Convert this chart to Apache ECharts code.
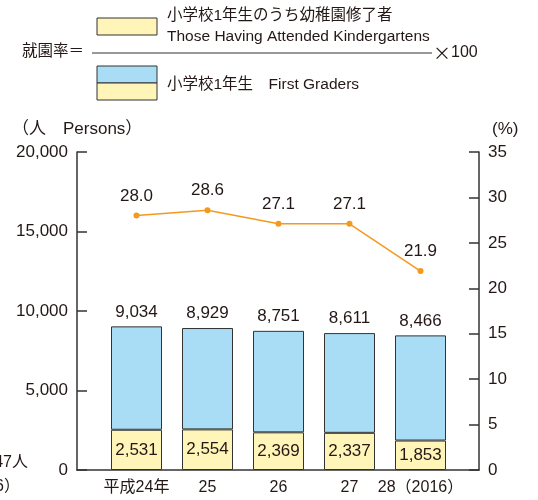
<!DOCTYPE html>
<html>
<head>
<meta charset="utf-8">
<script src="https://cdn.jsdelivr.net/npm/echarts@6/dist/echarts.min.js"></script>
<style>
  html, body { margin: 0; padding: 0; background: #fff; }
  #main { width: 538px; height: 500px; }
</style>
</head>
<body>
<div id="main"></div>
<script>
// 就園率 data
var years = ['平成24年', '25', '26', '27', '28（2016）'];
var firstGraders = [9034, 8929, 8751, 8611, 8466];
var kinder = [2531, 2554, 2369, 2337, 1853];
var rate = [28.0, 28.6, 27.1, 27.1, 21.9];
var leftTicks = [0, 20000, 5000];   // min, max, step
var rightTicks = [0, 35, 5];

var rest = firstGraders.map(function (v, i) { return v - kinder[i]; });

var font = '"Liberation Sans", Arial, "Noto Sans CJK JP", sans-serif';
var txt = '#231815';
var blue = '#a9dcf5';
var yellow = '#fff5b9';

var chart = echarts.init(document.getElementById('main'));

var option = {
  textStyle: { fontFamily: font, color: txt },
  animation: false,
  grid: [
    // visible axes
    { left: 77, right: 59, top: 152, bottom: 30 },
    // bars / line
    { left: 101, right: 82, top: 152, bottom: 30 }
  ],
  xAxis: [
    {
      gridIndex: 0, type: 'value', min: 0, max: 1,
      axisLine: { show: true, lineStyle: { color: '#333', width: 1.5 } },
      axisTick: { show: false }, axisLabel: { show: false }, splitLine: { show: false }
    },
    {
      gridIndex: 1, type: 'category', data: years,
      axisLine: { show: false }, axisTick: { show: false },
      axisLabel: { color: txt, fontSize: 16, margin: 10, fontFamily: font, interval: 0 }
    }
  ],
  yAxis: [
    {
      gridIndex: 0, type: 'value', position: 'left',
      min: leftTicks[0], max: leftTicks[1], interval: leftTicks[2],
      axisLine: { show: true, lineStyle: { color: '#333', width: 1.5 } },
      axisTick: { show: true, inside: true, length: 10, lineStyle: { color: '#333', width: 1.5 } },
      axisLabel: {
        color: txt, fontSize: 17, margin: 9, fontFamily: font,
        formatter: function (v) { return v.toLocaleString('en-US'); }
      },
      splitLine: { show: false }
    },
    {
      gridIndex: 0, type: 'value', position: 'right',
      min: rightTicks[0], max: rightTicks[1], interval: rightTicks[2],
      axisLine: { show: true, lineStyle: { color: '#333', width: 1.5 } },
      axisTick: { show: true, inside: true, length: 10, lineStyle: { color: '#333', width: 1.5 } },
      axisLabel: { color: txt, fontSize: 17, margin: 9, fontFamily: font },
      splitLine: { show: false }
    },
    {
      gridIndex: 1, type: 'value', min: leftTicks[0], max: leftTicks[1], show: false
    },
    {
      gridIndex: 1, type: 'value', min: rightTicks[0], max: rightTicks[1], show: false
    }
  ],
  series: [
    {
      name: '小学校1年生のうち幼稚園修了者', type: 'bar', stack: 'a',
      xAxisIndex: 1, yAxisIndex: 2, barWidth: 51,
      data: kinder,
      itemStyle: { color: yellow, borderColor: '#333', borderWidth: 1 },
      label: {
        show: true, position: 'inside', color: txt, fontSize: 17, fontFamily: font,
        formatter: function (p) { return p.value.toLocaleString('en-US'); }
      }
    },
    {
      name: '小学校1年生', type: 'bar', stack: 'a',
      xAxisIndex: 1, yAxisIndex: 2, barWidth: 51,
      data: rest,
      itemStyle: { color: blue, borderColor: '#333', borderWidth: 1 },
      label: {
        show: true, position: 'top', color: txt, fontSize: 17, fontFamily: font, distance: 6,
        formatter: function (p) { return firstGraders[p.dataIndex].toLocaleString('en-US'); }
      }
    },
    {
      name: '就園率', type: 'line',
      xAxisIndex: 1, yAxisIndex: 3,
      data: rate,
      symbol: 'circle', symbolSize: 6,
      lineStyle: { color: '#f39a1e', width: 1.5 },
      itemStyle: { color: '#f39a1e' },
      label: {
        show: true, position: 'top', color: txt, fontSize: 17, fontFamily: font, distance: 8,
        formatter: function (p) { return p.value.toFixed(1); }
      }
    }
  ],
  graphic: [
    // formula legend
    { type: 'text', left: 22, top: 44, style: { text: '就園率＝', fontSize: 15.5, fill: txt, fontFamily: font } },
    { type: 'rect', shape: { x: 97, y: 18, width: 60, height: 17 },
      style: { fill: yellow, stroke: '#333', lineWidth: 1 } },
    { type: 'text', left: 167, top: 8, style: { text: '小学校1年生のうち幼稚園修了者', fontSize: 15.5, fill: txt, fontFamily: font } },
    { type: 'text', left: 167, top: 29, style: { text: 'Those Having Attended Kindergartens', fontSize: 15.5, fill: txt, fontFamily: font } },
    { type: 'line', shape: { x1: 92, y1: 53, x2: 432, y2: 53 }, style: { stroke: '#333', lineWidth: 1 } },
    { type: 'text', left: 433, top: 44, style: {
        text: '{x|×}100', fontSize: 16, fill: txt, fontFamily: font,
        rich: { x: { fontFamily: '"Noto Sans CJK JP"', fontSize: 18, fill: txt } }
      } },
    { type: 'rect', shape: { x: 97, y: 66, width: 60, height: 17 },
      style: { fill: blue, stroke: '#333', lineWidth: 1 } },
    { type: 'rect', shape: { x: 97, y: 83, width: 60, height: 17 },
      style: { fill: yellow, stroke: '#333', lineWidth: 1 } },
    { type: 'text', left: 167, top: 77, style: { text: '小学校1年生　First Graders', fontSize: 15.5, fill: txt, fontFamily: font } },
    // axis names
    { type: 'text', left: 12, top: 121, style: { text: '（人　Persons）', fontSize: 17, fill: txt, fontFamily: font } },
    { type: 'text', left: 492, top: 121, style: { text: '(%)', fontSize: 17, fill: txt, fontFamily: font } },
    // clipped note at the left edge
    { type: 'text', right: 510, top: 455, style: { text: '47人', fontSize: 16, fill: txt, fontFamily: font } },
    { type: 'text', right: 518, top: 479, style: { text: '6）', fontSize: 16, fill: txt, fontFamily: font } }
  ]
};

chart.setOption(option);
</script>
</body>
</html>
